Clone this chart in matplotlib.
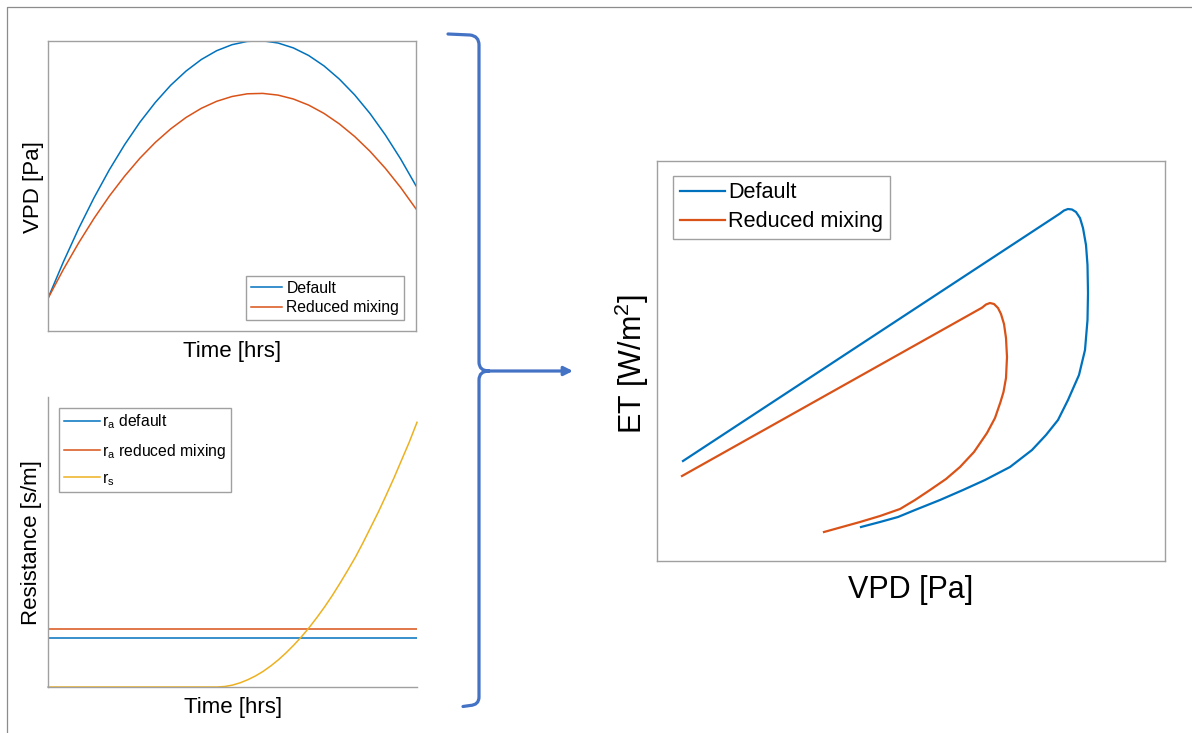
import matplotlib
matplotlib.use('Agg')
import matplotlib.pyplot as plt
from matplotlib.path import Path
from matplotlib.patches import PathPatch, FancyArrowPatch
from matplotlib.lines import Line2D

plt.rcParams['font.family'] = ['Liberation Sans', 'DejaVu Sans']
plt.rcParams['mathtext.fontset'] = 'custom'
plt.rcParams['mathtext.rm'] = 'Liberation Sans'
plt.rcParams['mathtext.it'] = 'Liberation Sans:italic'

# ---------------- data ----------------
time_hrs = [0, 0.5, 1, 1.5, 2, 2.5, 3, 3.5, 4, 4.5, 5, 5.5, 6, 6.5, 7, 7.5, 8, 8.5, 9,
            9.5, 10, 10.5, 11, 11.5, 12]
vpd_default = [328, 690, 1025, 1332, 1612, 1864, 2089, 2286, 2457, 2599, 2715, 2803, 2863,
               2896, 2902, 2880, 2831, 2755, 2651, 2519, 2361, 2175, 1961, 1720, 1452]
vpd_reduced = [326, 615, 881, 1126, 1349, 1549, 1729, 1886, 2021, 2135, 2227, 2297, 2345,
               2372, 2376, 2359, 2320, 2259, 2176, 2071, 1945, 1797, 1627, 1435, 1221]

res_time = [0, 12]
ra_default = [49, 49]
ra_reduced = [58, 58]
rs_time = [0, 5.5, 5.75, 6, 6.25, 6.5, 6.75, 7, 7.25, 7.5, 7.75, 8, 8.25, 8.5, 8.75, 9,
           9.25, 9.5, 9.75, 10, 10.25, 10.5, 10.75, 11, 11.25, 11.5, 11.75, 12]
rs_values = [0, 0, 0.5, 1.9, 4.2, 7.3, 11.1, 15.7, 21.2, 27.4, 34.4, 42.1, 50.5, 59.7, 69.7,
             80.3, 91.7, 104, 116.8, 130, 144.6, 160, 175.4, 192, 209, 227, 245, 264.7]

loop_vpd_default = [130, 2015, 2035, 2055, 2075, 2095, 2115, 2130, 2145, 2152.5, 2155,
                    2152.5, 2140, 2110, 2055, 2005, 1945, 1875, 1765, 1640, 1530, 1415,
                    1290, 1205, 1115, 1020]
loop_et_default = [100, 347.5, 350.5, 352, 351.5, 349, 343, 333, 316, 296, 268,
                   241, 211, 186, 161, 141, 126, 111, 94, 81, 71, 61,
                   51, 44, 39, 34]
loop_vpd_reduced = [125, 1625, 1645, 1665, 1685, 1705, 1720, 1735, 1745, 1750, 1745,
                    1732.5, 1717.5, 1690, 1650, 1585, 1515, 1445, 1365, 1290, 1215, 1115,
                    1015, 925, 835]
loop_et_reduced = [85, 253.3, 256.5, 258, 257, 253, 247, 237, 223, 204, 183,
                   169, 159, 143, 128, 109, 94, 82, 71, 61, 52, 45,
                   39, 34, 29]

legend_top = ['Default', 'Reduced mixing']
legend_bottom = [r'$\mathregular{r_a}$ default', r'$\mathregular{r_a}$ reduced mixing',
                 r'$\mathregular{r_s}$']

# ---------------- styling ----------------
W, H = 1192, 733
BLUE = '#0072BD'
ORANGE = '#D95319'
YELLOW = '#EDB120'
SPINE = '#a0a0a0'
BRACE = '#4472C4'

fig = plt.figure(figsize=(W / 100, H / 100), dpi=100)


def rect(x0, y0, x1, y1):
    return [x0 / W, 1 - y1 / H, (x1 - x0) / W, (y1 - y0) / H]


def P(x, y):
    return (x / W, 1 - y / H)


def style_ax(ax, spines=('left', 'right', 'top', 'bottom')):
    ax.set_xticks([])
    ax.set_yticks([])
    for s in ('left', 'right', 'top', 'bottom'):
        if s in spines:
            ax.spines[s].set_color(SPINE)
            ax.spines[s].set_linewidth(1.0)
        else:
            ax.spines[s].set_visible(False)


# top-left panel
ax1 = fig.add_axes(rect(48, 41, 416, 331))
ax1.plot(time_hrs, vpd_default, color=BLUE, lw=1.1, label=legend_top[0])
ax1.plot(time_hrs, vpd_reduced, color=ORANGE, lw=1.1, label=legend_top[1])
ax1.set_xlim(0, 12)
ax1.set_ylim(0, 2900)
style_ax(ax1)
lg = ax1.legend(loc='lower right', bbox_to_anchor=(0.967, 0.038), borderaxespad=0,
                fontsize=11.3, fancybox=False, framealpha=1, edgecolor=SPINE,
                handlelength=2.0, handletextpad=0.25, borderpad=0.3, labelspacing=0.3)
lg.get_frame().set_linewidth(1.0)

# bottom-left panel
ax2 = fig.add_axes(rect(48, 397, 417, 687))
ax2.plot(res_time, ra_default, color=BLUE, lw=1.1, label=legend_bottom[0])
ax2.plot(res_time, ra_reduced, color=ORANGE, lw=1.1, label=legend_bottom[1])
ax2.plot(rs_time, rs_values, color=YELLOW, lw=1.1, label=legend_bottom[2], clip_on=False)
ax2.set_xlim(0, 12)
ax2.set_ylim(0, 290)
style_ax(ax2, spines=('left', 'bottom'))
lg2 = ax2.legend(loc='upper left', bbox_to_anchor=(0.030, 0.962), borderaxespad=0,
                 fontsize=11.3, fancybox=False, framealpha=1, edgecolor=SPINE,
                 handlelength=2.3, handletextpad=0.15, borderpad=0.3, labelspacing=0.65)
lg2.get_frame().set_linewidth(1.0)

# right panel
ax3 = fig.add_axes(rect(657, 161, 1165, 561))
ax3.plot(loop_vpd_default, loop_et_default, color=BLUE, lw=1.6, label=legend_top[0],
         solid_joinstyle='round')
ax3.plot(loop_vpd_reduced, loop_et_reduced, color=ORANGE, lw=1.6, label=legend_top[1],
         solid_joinstyle='round')
ax3.set_xlim(0, 2540)
ax3.set_ylim(0, 400)
style_ax(ax3)
lg3 = ax3.legend(loc='upper left', bbox_to_anchor=(0.0315, 0.9625), borderaxespad=0,
                 fontsize=15.6, fancybox=False, framealpha=1, edgecolor=SPINE,
                 handlelength=2.1, handletextpad=0.15, borderpad=0.3, labelspacing=0.36)
lg3.get_frame().set_linewidth(1.0)

# axis labels
fig.text(*P(33, 187), 'VPD [Pa]', rotation=90, ha='center', va='center', fontsize=16)
fig.text(*P(232, 351), 'Time [hrs]', ha='center', va='center', fontsize=16)
fig.text(*P(32, 543), 'Resistance [s/m]', rotation=90, ha='center', va='center', fontsize=16)
fig.text(*P(233, 708), 'Time [hrs]', ha='center', va='center', fontsize=16)
fig.text(*P(632, 364), r'ET [W/m$^2$]', rotation=90, ha='center', va='center', fontsize=22)
fig.text(*P(911, 590), 'VPD [Pa]', ha='center', va='center', fontsize=22)

# brace
verts = [P(448, 34), P(470, 35), P(479, 36), P(479, 45), P(479, 362), P(479, 371), P(489, 371),
         P(489, 371), P(479, 371), P(479, 380), P(479, 697), P(479, 705), P(470, 705.5),
         P(463, 706.5)]
codes = [Path.MOVETO, Path.LINETO, Path.CURVE3, Path.CURVE3, Path.LINETO, Path.CURVE3,
         Path.CURVE3, Path.MOVETO, Path.CURVE3, Path.CURVE3, Path.LINETO, Path.CURVE3,
         Path.CURVE3, Path.LINETO]
fig.add_artist(PathPatch(Path(verts, codes), transform=fig.transFigure, fill=False,
                         edgecolor=BRACE, lw=2.3, capstyle='round', joinstyle='round'))
fig.add_artist(FancyArrowPatch(P(486, 371), P(573, 371), transform=fig.transFigure,
                               arrowstyle='-|>', mutation_scale=13, color=BRACE, lw=2.3,
                               shrinkA=0, shrinkB=0))

# outer frame
fig.add_artist(Line2D([7 / W, 7 / W, 1], [0, 1 - 7 / H, 1 - 7 / H], transform=fig.transFigure,
                      color='#8c8c8c', lw=0.9))

fig.savefig('out.png', dpi=100)
